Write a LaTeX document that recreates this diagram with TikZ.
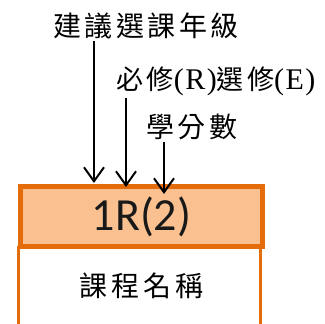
\documentclass[tikz,border=0pt]{standalone}
\usepackage{fontspec}
\setmainfont{Carlito}
\newfontfamily\zhfont{Noto Sans CJK TC}
\newfontfamily\latfont{Liberation Serif}[LetterSpace=5]
\usetikzlibrary{arrows.meta,positioning}
\definecolor{boxorange}{RGB}{228,108,10}
\definecolor{boxfill}{RGB}{250,192,144}

\tikzset{
	hint/.style={font=\zhfont\fontsize{27}{27}\selectfont\addfontfeature{LetterSpace=12}, inner sep=2pt},
	pointer/.style={-{Straight Barb[length=14pt,width=20pt]}, line width=2pt},
}
\newcommand{\half}[1]{{\latfont\fontsize{30}{30}\selectfont #1}}

\begin{document}
\begin{tikzpicture}[x=1pt, y=-1pt]
	\useasboundingbox (0,0) rectangle (325,324);

	% course box, bottom part runs off the page
	\node[draw=boxorange, line width=3pt, minimum width=242pt, minimum height=100pt, anchor=north] (course) at (139.5,246.5) {};
	\node[draw=boxorange, fill=boxfill, line width=5pt, minimum width=242pt, minimum height=60pt,
	      font=\fontsize{46}{46}\selectfont, text=black!90] (code) at (141.5,216.5) {1R(2)};
	\node[hint, font=\zhfont\fontsize{28}{28}\selectfont\addfontfeature{LetterSpace=14}] (coursename) [below=22pt of code] {課程名稱};

	% labels
	\node[hint, font=\zhfont\fontsize{28}{28}\selectfont\addfontfeature{LetterSpace=12}] (gradetxt) at (146,26) {建議選課年級};
	\node[hint] (kindtxt)   at (216,81)  {必修\half{(R)}選修\half{(E)}};
	\node[hint, font=\zhfont\fontsize{28}{28}\selectfont\addfontfeature{LetterSpace=12}] (credittxt) at (192,127) {學分數};

	\coordinate (grade)  at (94,183);
	\coordinate (kind)   at (126,187);
	\coordinate (credit) at (164,194);

	\draw[pointer] (gradetxt.south -| grade)   -- (grade);
	\draw[pointer] (kindtxt.south -| kind)     -- (kind);
	\draw[pointer] (credittxt.south -| credit) -- (credit);
\end{tikzpicture}
\end{document}
